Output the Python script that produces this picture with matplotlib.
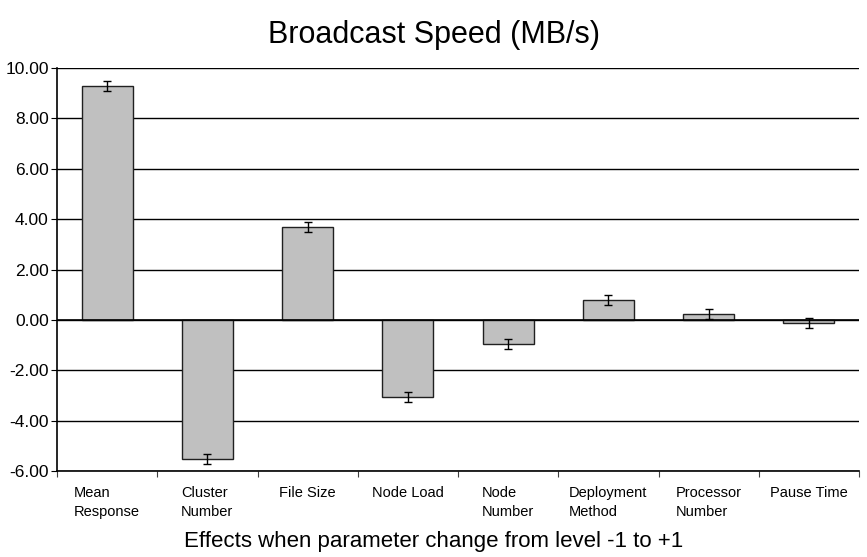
import numpy as np
import matplotlib.pyplot as plt
from matplotlib.ticker import FormatStrFormatter, FixedLocator

plt.rcParams['font.family'] = ['Liberation Sans', 'DejaVu Sans']

categories = ['Mean\nResponse', 'Cluster\nNumber', 'File Size', 'Node Load',
              'Node\nNumber', 'Deployment\nMethod', 'Processor\nNumber', 'Pause Time']
effects = [9.27, -5.52, 3.69, -3.07, -0.95, 0.79, 0.24, -0.13]
errors = [0.2, 0.2, 0.2, 0.2, 0.2, 0.2, 0.2, 0.2]

fig = plt.figure(figsize=(8.67, 5.57), dpi=100)
ax = fig.add_axes([57 / 867, 1 - 471 / 557, 802 / 867, 403 / 557])

x = np.arange(len(categories))
ax.bar(x, effects, width=0.51, color='#c0c0c0', edgecolor='#202020', linewidth=1.0,
       yerr=errors, capsize=3, error_kw={'elinewidth': 1.0, 'ecolor': 'black', 'capthick': 1.0},
       zorder=3)

ax.set_xlim(-0.5, len(categories) - 0.5)
ax.set_ylim(-6, 10)
ax.set_yticks(np.arange(-6, 10.1, 2))
ax.yaxis.set_major_formatter(FormatStrFormatter('%.2f'))
ax.yaxis.grid(True, color='black', linewidth=1.0, zorder=0)
ax.axhline(0, color='black', linewidth=1.2, zorder=4)

ax.xaxis.set_major_locator(FixedLocator(np.arange(-0.5, len(categories), 1)))
ax.set_xticklabels([])
ax.xaxis.set_minor_locator(FixedLocator(x))
ax.set_xticklabels(categories, minor=True, fontsize=10.5, multialignment='left',
                   linespacing=1.45)
ax.tick_params(axis='x', which='minor', length=0, pad=11)
ax.tick_params(axis='x', which='major', length=4, direction='out', color='#404040')
ax.tick_params(axis='y', length=4, direction='out', labelsize=12.5, pad=2)

for s in ['top', 'right']:
    ax.spines[s].set_visible(False)
ax.spines['left'].set_linewidth(1.2)
ax.spines['bottom'].set_linewidth(1.2)

fig.text(0.5, 1 - 35 / 557, 'Broadcast Speed (MB/s)', fontsize=22, ha='center', va='center')
fig.text(0.5, 1 - 541 / 557, 'Effects when parameter change from level -1 to +1',
         fontsize=16, ha='center', va='center')

fig.savefig('out.png', dpi=100)
